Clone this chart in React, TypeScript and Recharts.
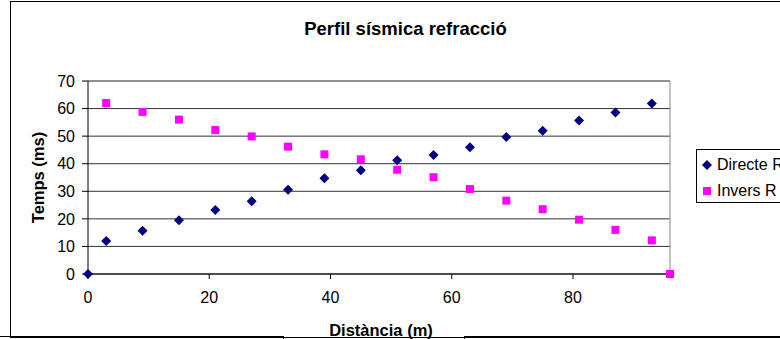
import React from "react";
import {
  ScatterChart,
  Scatter,
  XAxis,
  YAxis,
  CartesianGrid,
  ReferenceLine,
  Legend,
  Label,
} from "recharts";

// distances (m) and travel times (ms)
const DIRECTE_X = [0, 3, 9, 15, 21, 27, 33, 39, 45, 51, 57, 63, 69, 75, 81, 87, 93];
const DIRECTE_T = [0, 12.0, 15.7, 19.5, 23.2, 26.4, 30.6, 34.7, 37.6, 41.3, 43.2, 46.0, 49.7, 52.0, 55.7, 58.6, 61.8];
const INVERS_X = [3, 9, 15, 21, 27, 33, 39, 45, 51, 57, 63, 69, 75, 81, 87, 93, 96];
const INVERS_T = [62.0, 58.8, 56.0, 52.2, 49.9, 46.2, 43.4, 41.6, 37.8, 35.1, 30.8, 26.6, 23.5, 19.7, 16.0, 12.2, 0];
const X_TICKS = [0, 20, 40, 60, 80];
const Y_TICKS = [0, 10, 20, 30, 40, 50, 60, 70];

const directe = DIRECTE_X.map((x, i) => ({ x, t: DIRECTE_T[i] }));
const invers = INVERS_X.map((x, i) => ({ x, t: INVERS_T[i] }));

const FONT = '"Liberation Sans", Arial, sans-serif';
const NAVY = "#000080";
const MAGENTA = "#FF00FF";

const Diamond = (p: any) => (
  <polygon
    points={`${p.cx},${p.cy - 5} ${p.cx + 5},${p.cy} ${p.cx},${p.cy + 5} ${p.cx - 5},${p.cy}`}
    fill={NAVY}
  />
);

const Square = (p: any) => (
  <rect x={p.cx - 4} y={p.cy - 4} width={8} height={8} fill={MAGENTA} />
);

const YTitle = (props: any) => {
  const vb = props.viewBox;
  const x = vb.x + 38;
  const y = vb.y + vb.height / 2;
  return (
    <text
      x={x}
      y={y}
      transform={`rotate(-90 ${x} ${y})`}
      textAnchor="middle"
      dominantBaseline="central"
      fontFamily={FONT}
      fontWeight="bold"
      fontSize={16.5}
      fill="#000"
    >
      Temps (ms)
    </text>
  );
};

const XTitle = (props: any) => {
  const vb = props.viewBox;
  return (
    <text
      x={vb.x + vb.width / 2 + 2}
      y={330}
      textAnchor="middle"
      dominantBaseline="central"
      fontFamily={FONT}
      fontWeight="bold"
      fontSize={16.5}
      fill="#000"
    >
      Distància (m)
    </text>
  );
};

const LegendBox = (props: any) => {
  const items = props.payload || [];
  return (
    <div
      style={{
        border: "1px solid #000",
        width: 120,
        height: 54,
        fontFamily: FONT,
        fontSize: 16,
        color: "#000",
        background: "#fff",
        boxSizing: "border-box",
        paddingTop: 4,
      }}
    >
      {items.map((it: any, i: number) => (
        <div key={it.value} style={{ display: "flex", alignItems: "center", height: 22, marginTop: i ? 4 : 0 }}>
          <svg width={20} height={12} style={{ flex: "none" }}>
            {i === 0 ? (
              <polygon points="10,1 15,6 10,11 5,6" fill={NAVY} />
            ) : (
              <rect x={6} y={2} width={8} height={8} fill={MAGENTA} />
            )}
          </svg>
          <span style={{ whiteSpace: "nowrap" }}>{it.value}</span>
        </div>
      ))}
    </div>
  );
};

export default function App() {
  return (
    <div
      style={{
        position: "absolute",
        left: 0,
        top: 0,
        width: 780,
        height: 339,
        overflow: "hidden",
        background: "#fff",
        fontFamily: FONT,
      }}
    >
      {/* outer chart frame */}
      <div
        style={{
          position: "absolute",
          left: 10,
          top: 1,
          width: 820,
          height: 335,
          border: "1px solid #000",
        }}
      />
      {/* boxes peeking in at the bottom */}
      <div style={{ position: "absolute", left: -2, top: 336, width: 284, height: 20, border: "1px solid #000" }} />
      <div style={{ position: "absolute", left: 464, top: 336, width: 400, height: 20, border: "1px solid #000" }} />

      <div
        style={{
          position: "absolute",
          left: 31,
          top: 19,
          width: 749,
          textAlign: "center",
          fontWeight: "bold",
          fontSize: 18.5,
          lineHeight: "20px",
          color: "#000",
        }}
      >
        Perfil sísmica refracció
      </div>

      <div style={{ position: "absolute", left: 0, top: 0 }}>
        <ScatterChart width={780} height={339} margin={{ top: 81, right: 110, bottom: 0, left: 0 }}>
          <CartesianGrid horizontal vertical={false} stroke="#333" />
          <XAxis
            type="number"
            dataKey="x"
            domain={[0, 96]}
            ticks={X_TICKS}
            height={65}
            axisLine={{ stroke: "#000" }}
            tickLine={{ stroke: "#000" }}
            tickSize={5}
            tickMargin={13}
            tick={{ fontSize: 16, fill: "#000", fontFamily: FONT }}
          >
            <Label content={XTitle} />
          </XAxis>
          <YAxis
            type="number"
            dataKey="t"
            domain={[0, 70]}
            ticks={Y_TICKS}
            width={88}
            axisLine={{ stroke: "#000" }}
            tickLine={{ stroke: "#000" }}
            tickSize={6}
            tickMargin={7}
            tick={{ fontSize: 16, fill: "#000", fontFamily: FONT }}
          >
            <Label content={YTitle} />
          </YAxis>
          <ReferenceLine y={70} stroke="#888" />
          <ReferenceLine x={96} stroke="#888" />
          <Legend
            layout="horizontal"
            align="center"
            verticalAlign="middle"
            content={LegendBox}
            wrapperStyle={{ left: 696, top: 149, width: 120, height: 54 }}
          />
          <Scatter name="Directe R" data={directe} shape={Diamond} isAnimationActive={false} />
          <Scatter name="Invers R" data={invers} shape={Square} isAnimationActive={false} />
        </ScatterChart>
      </div>
    </div>
  );
}
